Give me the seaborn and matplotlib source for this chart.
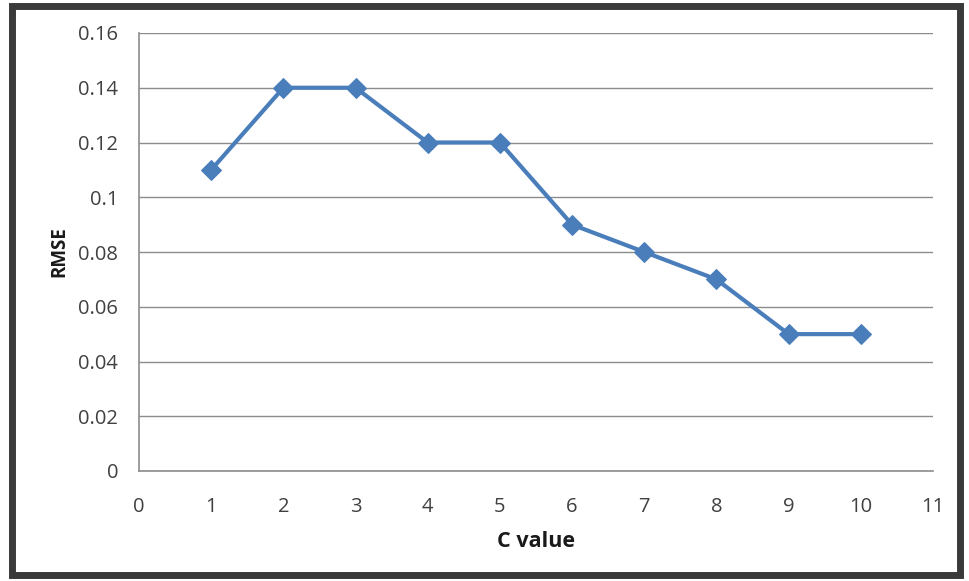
import matplotlib
matplotlib.use("Agg")
import matplotlib.pyplot as plt
import seaborn as sns
import pandas as pd
from matplotlib.patches import Rectangle

c_values = [1, 2, 3, 4, 5, 6, 7, 8, 9, 10]
rmse = [0.11, 0.14, 0.14, 0.12, 0.12, 0.09, 0.08, 0.07, 0.05, 0.05]
x_ticks = list(range(0, 12))
y_ticks = [0, 0.02, 0.04, 0.06, 0.08, 0.1, 0.12, 0.14, 0.16]
y_tick_labels = ["0", "0.02", "0.04", "0.06", "0.08", "0.1", "0.12", "0.14", "0.16"]

sns.set_style("white")
plt.rcParams['font.family'] = ['Open Sans', 'DejaVu Sans']

df = pd.DataFrame({"C value": c_values, "RMSE": rmse})

fig = plt.figure(figsize=(9.7, 5.81), dpi=100)
ax = fig.add_axes([139/970, 1-471/581, (933-139)/970, (471-33)/581])

sns.lineplot(data=df, x="C value", y="RMSE", ax=ax, color="#4A7EBB",
             linewidth=3, marker="D", markersize=10, markeredgecolor="#4A7EBB")

ax.set_xlim(0, 11)
ax.set_ylim(0, 0.16)
ax.set_xticks(x_ticks)
ax.set_yticks(y_ticks)
ax.set_yticklabels(y_tick_labels)
ax.grid(axis="y", color="#8C8C8C", linewidth=1.0)
ax.set_axisbelow(True)
for s in ["top", "right"]:
    ax.spines[s].set_visible(False)
for s in ["left", "bottom"]:
    ax.spines[s].set_color("#8C8C8C")
    ax.spines[s].set_linewidth(1.2)
ax.tick_params(axis="both", which="both", direction="out", length=7, width=1,
               color="#8C8C8C", labelsize=14.5, labelcolor="#404040")
ax.tick_params(axis="x", pad=12)
ax.tick_params(axis="y", pad=8)
ax.set_xlabel("C value", fontsize=15.5, fontweight="bold", color="#1a1a1a", labelpad=10)
ax.set_ylabel("RMSE", fontsize=13.5, fontweight="bold", color="#1a1a1a", labelpad=6)

fig.patches.append(Rectangle((12/970, 6/581), (960-12)/970, (575-6)/581,
                             transform=fig.transFigure, fill=False,
                             edgecolor="#3a3a3a", linewidth=5))

fig.savefig("out.png", dpi=100)
